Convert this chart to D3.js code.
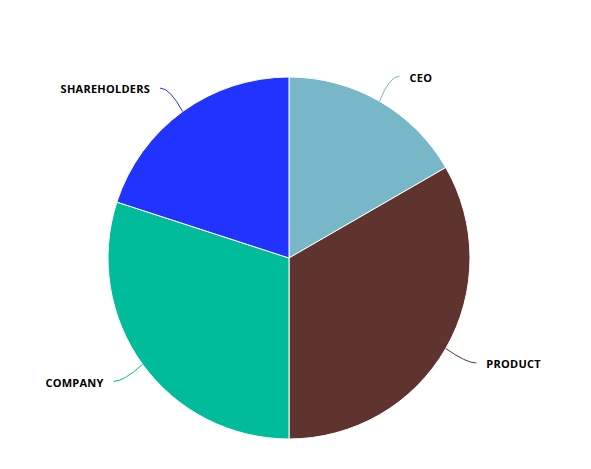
<!DOCTYPE html>
<html>
<head>
<meta charset="utf-8">
<script src="https://cdn.jsdelivr.net/npm/d3@7"></script>
<style>
  body { margin: 0; background: #fff; }
  text { font-family: "Open Sans", sans-serif; font-weight: bold; font-size: 11px; letter-spacing: 0.25px; fill: #000; }
</style>
</head>
<body>
<svg id="chart"></svg>
<script>
// chart size
const width = 591, height = 469;
const cx = 289, cy = 258, radius = 181;

// data
var labels = ["CEO", "PRODUCT", "COMPANY", "SHAREHOLDERS"];
var values = [10, 20, 18, 12];
var colors = ["#77b7c7", "#5f342f", "#00bc9b", "#2033ff"];

var data = labels.map(function(d, i) { return {label: d, value: values[i], color: colors[i]}; });

var svg = d3.select("#chart")
    .attr("width", width)
    .attr("height", height)
  .append("g")
    .attr("transform", "translate(" + cx + "," + cy + ")");

var pie = d3.pie().sort(null).value(function(d) { return d.value; });
var arc = d3.arc().innerRadius(0).outerRadius(radius);

var arcs = pie(data);

// slices
svg.selectAll(".slice")
    .data(arcs)
  .enter()
    .append("path")
    .attr("class", "slice")
    .attr("d", arc)
    .style("fill", function(d) { return d.data.color; })
    .style("stroke", "#fff")
    .style("stroke-width", 1);

// point on a circle for angle a (clockwise from top)
function pt(a, r) { return [Math.sin(a) * r, -Math.cos(a) * r]; }
function mid(d) { return (d.startAngle + d.endAngle) / 2; }
var labelR = radius + 29;

// curved label lines
svg.selectAll(".tick-line")
    .data(arcs)
  .enter()
    .append("path")
    .attr("class", "tick-line")
    .attr("d", function(d) {
      var a = mid(d);
      var s = pt(a, radius);
      var e = pt(a, labelR);
      var side = e[0] > 0 ? 1 : -1;
      e[0] += side * 5.5;
      var c = [e[0] - side * 10, e[1]];
      return "M" + s + "Q" + c + " " + e;
    })
    .style("fill", "none")
    .style("stroke", function(d) { return d.data.color; })
    .style("stroke-width", 1);

// labels
svg.selectAll(".label")
    .data(arcs)
  .enter()
    .append("text")
    .attr("class", "label")
    .attr("x", function(d) {
      var e = pt(mid(d), labelR);
      return e[0] > 0 ? e[0] + 15.5 : e[0] - 15.5;
    })
    .attr("y", function(d) { return pt(mid(d), labelR)[1] + 1.5; })
    .attr("dy", "0.35em")
    .attr("text-anchor", function(d) { return Math.sin(mid(d)) > 0 ? "start" : "end"; })
    .text(function(d) { return d.data.label; });
</script>
</body>
</html>
